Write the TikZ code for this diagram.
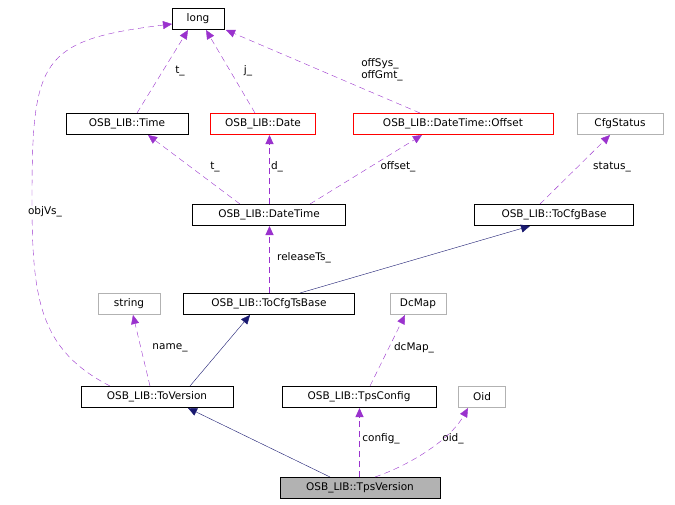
\documentclass[tikz,border=0pt]{standalone}
\usepackage{fontspec}
\setmainfont{DejaVu Sans}
\usetikzlibrary{arrows.meta}
\definecolor{purp}{HTML}{9A32CD}
\definecolor{nav}{HTML}{191970}
\begin{document}
\begin{tikzpicture}[x=1pt,y=-1pt,
  box/.style={draw=black,fill=white,minimum height=21pt,inner sep=0pt,font=\fontsize{10.5}{12}\selectfont},
  gbox/.style={box,draw=gray!60},
  rbox/.style={box,draw=red},
  inh/.style={color=nav,-{Triangle[length=9pt,width=8pt]}},
  use/.style={color=purp,dash pattern=on 6pt off 4pt,-{Triangle[length=9pt,width=8pt]}},
  vuse/.style={use,line width=0.9pt},
  lab/.style={font=\fontsize{10.5}{12}\selectfont,inner sep=1pt,align=left}]
\useasboundingbox (0,0) rectangle (675,504);
\node[box,minimum width=52pt] (long) at (198,19) {long};
\node[box,minimum width=122pt] (time) at (127,124) {OSB\_LIB::Time};
\node[rbox,minimum width=105pt] (date) at (263,124) {OSB\_LIB::Date};
\node[rbox,minimum width=200pt] (off) at (453,124) {OSB\_LIB::DateTime::Offset};
\node[gbox,minimum width=86pt] (cfgs) at (620,124) {CfgStatus};
\node[box,minimum width=153pt] (dt) at (269,215) {OSB\_LIB::DateTime};
\node[box,minimum width=159pt] (tcb) at (554,215) {OSB\_LIB::ToCfgBase};
\node[gbox,minimum width=62pt] (str) at (129,304) {string};
\node[box,minimum width=171pt] (tctb) at (269,304) {OSB\_LIB::ToCfgTsBase};
\node[gbox,minimum width=56pt] (dc) at (418,304) {DcMap};
\node[box,minimum width=152pt] (tv) at (157,397) {OSB\_LIB::ToVersion};
\node[box,minimum width=154pt] (tc) at (359,397) {OSB\_LIB::TpsConfig};
\node[gbox,minimum width=47pt] (oid) at (482,397) {Oid};
\node[box,fill=gray!60,minimum width=160pt] (tpv) at (360,488) {OSB\_LIB::TpsVersion};

\coordinate (a1) at (330,477); \coordinate (b1) at (188,408);
\draw[inh] (a1) -- (b1);
\coordinate (a2) at (190,386); \coordinate (b2) at (250,315);
\draw[inh] (a2) -- (b2);
\coordinate (a3) at (300,293); \coordinate (b3) at (530,226);
\draw[inh] (a3) -- (b3);

\coordinate (a0) at (359.5,477); \coordinate (b0) at (359.5,408);
\draw[vuse] (a0) -- (b0);
\node[lab] (l1) at (381,439) {config\_};
\coordinate (a4) at (375,477); \coordinate (b4) at (468,408);
\draw[use] (a4) .. controls (410,465) and (450,440) .. (b4);
\node[lab] (l2) at (453,439) {oid\_};
\coordinate (a5) at (370,386); \coordinate (b5) at (405,315);
\draw[use] (a5) -- (b5);
\node[lab] (l3) at (414,348) {dcMap\_};
\coordinate (a6) at (150,386); \coordinate (b6) at (133,315);
\draw[use] (a6) -- (b6);
\node[lab] (l4) at (170,348) {name\_};
\coordinate (a7) at (110,386); \coordinate (b7) at (172,24);
\draw[use] (a7) .. controls (40,350) and (32,300) .. (32,200) .. controls (32,60) and (40,40) .. (b7);
\node[lab,fill=white] (l5) at (45,212) {objVs\_};
\coordinate (a14) at (269.5,293); \coordinate (b14) at (269.5,226);
\draw[vuse] (a14) -- (b14);
\node[lab] (l6) at (304,258) {releaseTs\_};
\coordinate (a8) at (540,204); \coordinate (b8) at (610,135);
\draw[use] (a8) -- (b8);
\node[lab] (l7) at (612,167) {status\_};
\coordinate (a9) at (240,204); \coordinate (b9) at (148,135);
\draw[use] (a9) -- (b9);
\node[lab] (l8) at (215,167) {t\_};
\coordinate (a15) at (269.5,204); \coordinate (b15) at (269.5,135);
\draw[vuse] (a15) -- (b15);
\node[lab] (l9) at (277,167) {d\_};
\coordinate (a10) at (310,204); \coordinate (b10) at (422,135);
\draw[use] (a10) -- (b10);
\node[lab] (l10) at (398,167) {offset\_};
\coordinate (a11) at (137,113); \coordinate (b11) at (188,30);
\draw[use] (a11) -- (b11);
\node[lab] (l11) at (180,71) {t\_};
\coordinate (a12) at (255,113); \coordinate (b12) at (206,30);
\draw[use] (a12) -- (b12);
\node[lab] (l12) at (248,71) {j\_};
\coordinate (a13) at (420,113); \coordinate (b13) at (226,30);
\draw[use] (a13) -- (b13);
\node[lab] (l13) at (382,70) {offSys\_\\offGmt\_};
\end{tikzpicture}
\end{document}
